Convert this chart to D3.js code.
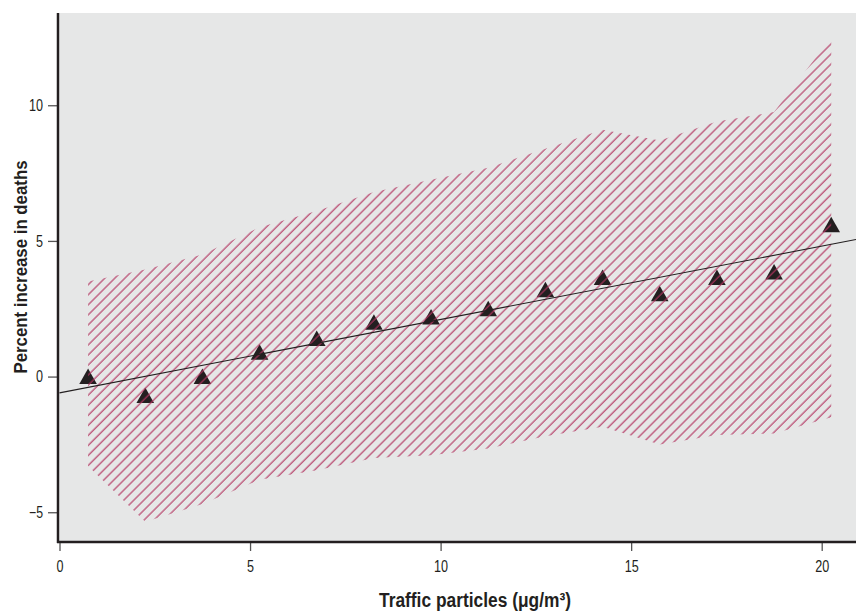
<!DOCTYPE html>
<html>
<head>
<meta charset="utf-8">
<script src="https://cdn.jsdelivr.net/npm/d3@7"></script>
<style>
  html, body { margin: 0; padding: 0; background: #ffffff; }
  svg { display: block; }
  text { font-family: "Liberation Sans", Arial, sans-serif; fill: #231f20; }
</style>
</head>
<body>
<svg id="chart" width="856" height="612"></svg>
<script>
// ---- data ----
const particles = [0.75, 2.25, 3.75, 5.25, 6.75, 8.25, 9.75, 11.25, 12.75, 14.25, 15.75, 17.25, 18.75, 20.25];
const pctIncrease = [0.0, -0.7, 0.0, 0.9, 1.4, 2.0, 2.2, 2.5, 3.2, 3.65, 3.05, 3.65, 3.85, 5.6];
const upperCI = [3.5, 3.95, 4.5, 5.5, 6.1, 6.8, 7.25, 7.7, 8.4, 9.1, 8.7, 9.4, 9.75, 12.5];
const lowerCI = [-3.3, -5.35, -4.7, -3.8, -3.45, -3.0, -2.9, -2.65, -2.2, -1.85, -2.5, -2.15, -2.1, -1.5];
const trendX = [0, 20.9];
const trendY = [-0.6, 5.05];
const xTicks = [0, 5, 10, 15, 20];
const yTicks = [-5, 0, 5, 10];
const xTitle = "Traffic particles (\u03bcg/m\u00b3)";
const yTitle = "Percent increase in deaths";

// ---- layout ----
const svg = d3.select("#chart");
const pLeft = 59.5, pRight = 856, pTop = 13, pBottom = 541;
const x = d3.scaleLinear().domain([0, 20.9]).range([pLeft, pRight]);
const y = d3.scaleLinear().domain([-6.06, 13.4]).range([pBottom, pTop]);

// pattern
const defs = svg.append("defs");
const pat = defs.append("pattern")
  .attr("id", "hatch")
  .attr("patternUnits", "userSpaceOnUse")
  .attr("width", 7.1).attr("height", 7.1)
  .attr("patternTransform", "rotate(45)");
pat.append("line")
  .attr("x1", 1).attr("y1", 0).attr("x2", 1).attr("y2", 7.1)
  .attr("stroke", "#b2335f").attr("stroke-width", 1.1);

// background
svg.append("rect")
  .attr("x", pLeft).attr("y", pTop)
  .attr("width", pRight - pLeft).attr("height", pBottom - pTop)
  .attr("fill", "#e6e7e7");

const band = particles.map((p, i) => ({ x: p, lo: lowerCI[i], hi: upperCI[i] }));

// triangles
const tri = "M0,-8 L8.8,7.5 L-8.8,7.5 Z";
svg.append("g").selectAll("path")
  .data(particles.map((p, i) => ({ x: p, y: pctIncrease[i] })))
  .join("path")
  .attr("d", tri)
  .attr("transform", d => `translate(${x(d.x)},${y(d.y)})`)
  .attr("fill", "#231f20");

// hatched CI band
svg.append("path")
  .datum(band)
  .attr("d", d3.area().x(d => x(d.x)).y0(d => y(d.lo)).y1(d => y(d.hi)))
  .attr("fill", "url(#hatch)");

// trend line
svg.append("path")
  .datum(trendX.map((v, i) => [v, trendY[i]]))
  .attr("d", d3.line().x(d => x(d[0])).y(d => y(d[1])))
  .attr("fill", "none")
  .attr("stroke", "#231f20")
  .attr("stroke-width", 1.1);

// axes
const fmt = d => d < 0 ? "\u2212" + Math.abs(d) : String(d);
const gx = svg.append("g")
  .attr("transform", `translate(0,${pBottom + 1})`)
  .call(d3.axisBottom(x).tickValues(xTicks).tickSize(9).tickPadding(10).tickFormat(fmt));
const gy = svg.append("g")
  .attr("transform", `translate(${pLeft - 1.5},0)`)
  .call(d3.axisLeft(y).tickValues(yTicks).tickSize(10).tickPadding(5).tickFormat(fmt));
[gx, gy].forEach(g => {
  g.select(".domain").remove();
  g.selectAll(".tick line").attr("stroke", "#555").attr("stroke-width", 1.3);
  g.selectAll(".tick text")
    .attr("fill", "#231f20")
    .style("font-size", "16px")
    .style("font-family", '"Liberation Sans", Arial, sans-serif')
    .attr("textLength", function() { return this.textContent.length * 7; })
    .attr("lengthAdjust", "spacingAndGlyphs");
});

// axis lines
svg.append("line")
  .attr("x1", pLeft - 1.5).attr("x2", pLeft - 1.5).attr("y1", pTop).attr("y2", pBottom + 2)
  .attr("stroke", "#231f20").attr("stroke-width", 2.5);
svg.append("line")
  .attr("x1", pLeft - 2.5).attr("x2", pRight).attr("y1", pBottom + 1).attr("y2", pBottom + 1)
  .attr("stroke", "#231f20").attr("stroke-width", 2.5);

// titles
svg.append("text")
  .attr("x", 379).attr("y", 607)
  .attr("text-anchor", "start")
  .style("font-size", "20px").style("font-weight", "bold")
  .attr("textLength", 192).attr("lengthAdjust", "spacingAndGlyphs")
  .text(xTitle);

svg.append("text")
  .attr("transform", "translate(27,267) rotate(-90)")
  .attr("text-anchor", "middle")
  .style("font-size", "18px").style("font-weight", "bold")
  .attr("textLength", 213).attr("lengthAdjust", "spacingAndGlyphs")
  .text(yTitle);
</script>
</body>
</html>
